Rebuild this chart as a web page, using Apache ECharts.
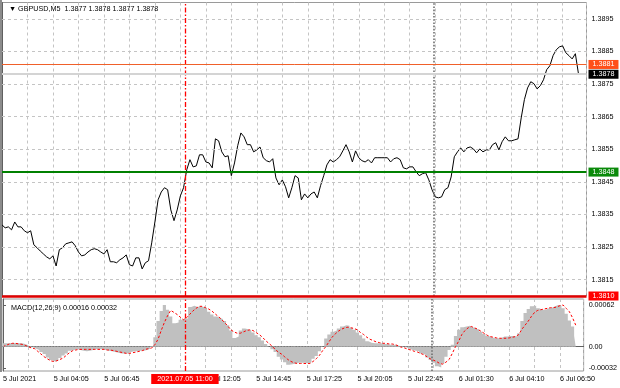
<!DOCTYPE html>
<html><head><meta charset="utf-8">
<script src="https://cdn.jsdelivr.net/npm/echarts@6/dist/echarts.min.js"></script>
<style>html,body{margin:0;padding:0;background:#fff}#c{width:620px;height:388px}</style>
</head><body><div id="c"></div>
<script>
// GBPUSD M5 close prices (one point per two bars)
const closePrices = [
1.38318,1.38309,1.38312,1.38303,1.38327,1.38312,1.38312,1.38300,1.38294,1.38300,
1.38257,1.38248,1.38238,1.38229,1.38220,1.38214,1.38223,1.38192,1.38242,1.38248,
1.38260,1.38263,1.38266,1.38254,1.38235,1.38223,1.38226,1.38235,1.38242,1.38245,
1.38242,1.38235,1.38229,1.38242,1.38205,1.38205,1.38202,1.38211,1.38217,1.38226,
1.38196,1.38192,1.38217,1.38217,1.38183,1.38202,1.38208,1.38263,1.38327,1.38395,
1.38419,1.38432,1.38426,1.38364,1.38331,1.38364,1.38407,1.38432,1.38487,1.38518,
1.38496,1.38499,1.38533,1.38533,1.38511,1.38508,1.38493,1.38582,1.38576,1.38542,
1.38527,1.38530,1.38469,1.38508,1.38561,1.38600,1.38588,1.38564,1.38564,1.38542,
1.38548,1.38557,1.38524,1.38515,1.38511,1.38521,1.38462,1.38441,1.38456,1.38435,
1.38401,1.38432,1.38469,1.38462,1.38395,1.38413,1.38401,1.38413,1.38419,1.38401,
1.38438,1.38469,1.38502,1.38518,1.38511,1.38518,1.38527,1.38545,1.38564,1.38542,
1.38511,1.38545,1.38524,1.38515,1.38511,1.38518,1.38508,1.38524,1.38524,1.38524,
1.38524,1.38524,1.38511,1.38521,1.38524,1.38518,1.38493,1.38490,1.38496,1.38496,
1.38481,1.38469,1.38475,1.38478,1.38456,1.38426,1.38404,1.38401,1.38404,1.38426,
1.38432,1.38465,1.38527,1.38542,1.38554,1.38542,1.38554,1.38557,1.38551,1.38539,
1.38551,1.38542,1.38548,1.38548,1.38564,1.38570,1.38548,1.38573,1.38588,1.38576,
1.38576,1.38579,1.38582,1.38646,1.38702,1.38738,1.38757,1.38751,1.38735,1.38745,
1.38763,1.38794,1.38806,1.38837,1.38855,1.38864,1.38867,1.38846,1.38837,1.38827,
1.38843,1.38780
];
// MACD(12,26,9) main (histogram) and signal, in units of 0.00001
const macdMain = [
5,5,5,5.5,5.5,5,5,4,2,-1,
-3,-5,-8,-11,-16,-20,-22,-21,-17,-13,
-10,-6,-5,-4,-5,-6,-7,-6,-5,-4,
-4,-4,-5,-6,-7,-8,-9,-10,-10,-10,
-8,-7,-7,-6,-6,-5,-3,1,14,38,
53,62,55,45,35,36,40,42,42,59,
61,59,60,59,57,52,48,45,43,41,
38,32,24,13,15,24,27,26,24,21,
17,14,9,4,0,-4,-8,-15,-19,-23,
-27,-26,-25,-24,-24,-24,-25,-23,-18,-14,
-7,0,12,18,22,24,27,30,32,31,
28,25,21,17,12,8,6,5,5,5,
4,4,3,3,2,1,0,-1,-3,-5,
-6,-7,-10,-12,-16,-20,-24,-29,-31,-25,
-15,-5,3,16,25,29,30,31,29,27,
25,22,19,16,14,12.5,12.5,13,15,15,
16,16,15,20,38,50,56,60,61,57,
55,55,57,58,60,62,61,57,49,39,
30,16
];
const macdSignal = [
0,2,4,5,5,4,3.5,2,0,-2,
-3,-7,-11,-15,-18,-21,-22,-21,-19,-17,
-13,-9,-6,-5,-4,-4,-4,-4,-4,-4,
-4,-4,-4,-5,-5,-6,-7,-8,-9,-10,
-10,-9,-8,-7,-6,-4,-3,-2,3,11,
24,36,46,54,51,48,44,40,43,48,
53,57,60,60,58,56,53,49,45,41,
36,31,25,22,20,20,22,24,25,24,
21,18,14,9,5,1,-4,-8,-11,-15,
-19,-22,-24,-25,-25,-25,-25,-25,-22,-18,
-13,-6,0,7,14,19,23,26,28,29,
28,27,25,21,18,14,11,9,7,6,
5,5,4,4,3,1,-1,-2,-4,-5,
-7,-8,-10,-12,-15,-18,-20,-22,-25,-26,
-23,-19,-10,0,8,18,24,28,30,28,
26,23,20,17,15,14,13,12.5,12.5,12.5,
13,14,15,18,26,32,38,45,51,54,
55,56,57,58,58,59,61,62,57,52,
43,32
];
const timeLabels = ["5 Jul 2021","5 Jul 04:05","5 Jul 06:45","5 Jul 09:25","5 Jul 12:05","5 Jul 14:45",
  "5 Jul 17:25","5 Jul 20:05","5 Jul 22:45","6 Jul 01:30","6 Jul 04:10","6 Jul 06:50"];
const priceTicks = [1.3815,1.3825,1.3835,1.3845,1.3855,1.3865,1.3875,1.3885,1.3895];
const macdTicks = [-0.00032, 0, 0.00062];
const levelValues = [1.3881, 1.3878, 1.3848, 1.3810];
const levelColors = ['#ff4f1a', '#000000', '#0a8a0a', '#ff0000'];
const levelLineColors = ['#f0602a', '#d4d4d4', '#008000', '#e00000'];
const levelWidths = [1, 2, 2, 2.5];
const cursorIndex = 57.5;      // 2021.07.05 11:00
const cursorLabel = '2021.07.05 11:00';
const daySepIndex = 135.5;     // 6 Jul 00:00
const headerText = '\u25BC GBPUSD,M5  1.3877 1.3878 1.3877 1.3878';
const macdText = 'MACD(12,26,9) 0.00016 0.00032';

const F = '"Liberation Sans", Arial, sans-serif';
const FS = 7.2;
const SCALE = 0.00001;
const xMax = 183.5;
const gridDash = {color:'#c4c4c4', type:[3,3], width:1};

const chart = echarts.init(document.getElementById('c'), null, {renderer:'canvas', width:620, height:388});

const levelMarks = levelValues.map((v, k) => ({
  yAxis: v,
  lineStyle: {color: levelLineColors[k], width: levelWidths[k], type: 'solid'},
  label: {show: true, position: 'end', distance: 2, formatter: v.toFixed(4),
    color: '#fff', backgroundColor: levelColors[k], padding: [1, 4, 1, 4],
    fontFamily: F, fontSize: FS}
}));
const gridMarks = priceTicks.map(v => ({yAxis: v, lineStyle: gridDash, label: {show: false}}));
const cursorStyle = {color: '#ff0000', width: 1.3, type: [5, 2, 1.5, 2], opacity: 1};
const dayStyle = {color: '#6e6e6e', width: 1.6, type: [1.6, 1.6]};

const xBase = (gi) => ({
  type: 'value', gridIndex: gi, min: 0, max: xMax, interval: 8,
  axisLine: {show: gi === 1, lineStyle: {color: '#606060'}},
  axisTick: {show: false},
  splitLine: {show: true, lineStyle: gridDash},
  axisLabel: gi === 1 ? {
    show: true, align: 'left', margin: 5, fontFamily: F, fontSize: FS, color: '#000',
    formatter: v => { const k = v / 16; return (Math.abs(k - Math.round(k)) < 1e-6 && timeLabels[Math.round(k)]) || ''; }
  } : {show: false}
});

const option = {
  animation: false,
  backgroundColor: '#ffffff',
  title: [
    {text: headerText, left: 4, top: 1, textStyle: {fontFamily: F, fontSize: FS, fontWeight: 'normal', color: '#000'}},
    {text: macdText, left: 6, top: 300, textStyle: {fontFamily: F, fontSize: FS, fontWeight: 'normal', color: '#000'}}
  ],
  graphic: [{type: 'rect', left: 0, top: 0, shape: {width: 2, height: 372}, style: {fill: '#8c8c8c'}, silent: true}],
  grid: [
    {left: 2, top: 2.5, width: 584.5, height: 293.5, show: true, borderColor: '#9a9a9a', borderWidth: 1},
    {left: 2, top: 299, width: 584.5, height: 72, show: true, borderColor: '#9a9a9a', borderWidth: 1}
  ],
  xAxis: [xBase(0), xBase(1)],
  yAxis: [
    {type: 'value', gridIndex: 0, position: 'right', min: 1.3810, max: 1.3900, interval: 0.0005,
     axisLine: {show: true, lineStyle: {color: '#606060'}},
     axisTick: {show: true, length: 3, customValues: priceTicks, lineStyle: {color: '#606060'}},
     axisLabel: {show: true, customValues: priceTicks, margin: 5, fontFamily: F, fontSize: FS, color: '#000',
       formatter: v => (Math.round(v * 2000) % 2 === 1 ? v.toFixed(4) : '')},
     splitLine: {show: false}},
    {type: 'value', gridIndex: 1, position: 'right', min: -0.000362, max: 0.000709,
     axisLine: {show: true, lineStyle: {color: '#606060'}},
     axisTick: {show: true, length: 3, customValues: macdTicks, lineStyle: {color: '#606060'}},
     axisLabel: {show: true, customValues: macdTicks, margin: 5, fontFamily: F, fontSize: FS, color: '#000',
       formatter: v => (Math.abs(v) < 1e-9 ? '0.00' : v.toFixed(5))},
     splitLine: {show: false}}
  ],
  series: [
    {type: 'line', name: 'GBPUSD', xAxisIndex: 0, yAxisIndex: 0,
     data: closePrices.map((v, i) => [i, v]), showSymbol: false, symbol: 'none',
     lineStyle: {color: '#000', width: 1}, z: 3,
     markLine: {silent: true, symbol: 'none', animation: false, precision: 6,
       data: [...gridMarks,
         {xAxis: cursorIndex, lineStyle: cursorStyle, label: {show: false}},
         {xAxis: daySepIndex, lineStyle: dayStyle, label: {show: false}},
         ...levelMarks]}},
    {type: 'line', name: 'MACD', xAxisIndex: 1, yAxisIndex: 1,
     data: macdMain.map((v, i) => [i, v * SCALE]), step: 'middle',
     showSymbol: false, symbol: 'none',
     lineStyle: {width: 0, color: '#c0c0c0'},
     areaStyle: {color: '#c0c0c0', opacity: 1, origin: 0},
     markLine: {silent: true, symbol: 'none', animation: false, precision: 8,
       data: [
         [{coord: [0, 0]}, {coord: [macdMain.length - 1, 0], lineStyle: {color: '#9a9a9a', width: 1, type: [1.5, 1.5]}}],
         {xAxis: daySepIndex, lineStyle: dayStyle, label: {show: false}},
         {xAxis: cursorIndex, lineStyle: cursorStyle,
          label: {show: true, position: 'start', distance: 3, formatter: cursorLabel, color: '#fff',
            backgroundColor: '#ff0000', padding: [2, 6, 1, 6], fontFamily: F, fontSize: FS}}
       ]}},
    {type: 'line', name: 'Signal', xAxisIndex: 1, yAxisIndex: 1,
     data: macdSignal.map((v, i) => [i, v * SCALE]), showSymbol: false, symbol: 'none',
     lineStyle: {color: '#ff0000', width: 1, type: [2.5, 2]}, z: 4}
  ]
};
chart.setOption(option);
</script>
</body></html>
